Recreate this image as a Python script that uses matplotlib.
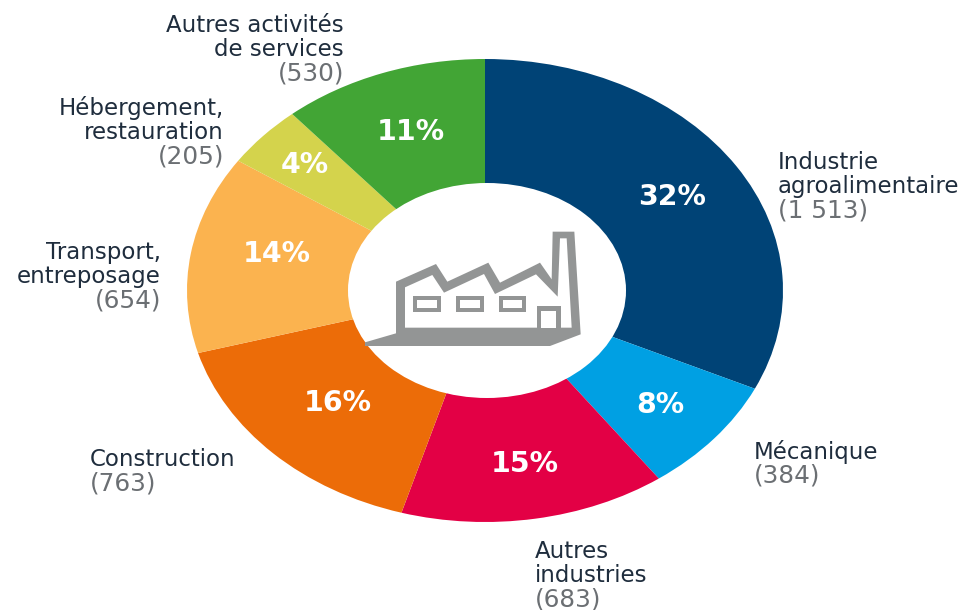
import matplotlib
matplotlib.use("Agg")
import matplotlib.pyplot as plt
from matplotlib.patches import Ellipse, Polygon, Rectangle

W, H = 966, 610
values = [1513, 384, 683, 763, 654, 205, 530]
percents = ["32%", "8%", "15%", "16%", "14%", "4%", "11%"]
colors = ["#004376", "#00A0E3", "#E30045", "#EC6C08", "#FBB34F", "#D4D34C", "#42A535"]
names = [["Industrie", "agroalimentaire"], ["Mécanique"], ["Autres", "industries"],
         ["Construction"], ["Transport,", "entreposage"], ["Hébergement,", "restauration"],
         ["Autres activités", "de services"]]
counts = ["(1 513)", "(384)", "(683)", "(763)", "(654)", "(205)", "(530)"]

# layout, in reference pixels
cx, cy, rx, ry = 485, 290.5, 298, 231.5
name_pos = [(778, 162.5, "left"), (754, 451.5, "left"), (535, 551.5, "left"), (90, 459.5, "left"),
            (161, 252.5, "right"), (224, 108.5, "right"), (344, 25.5, "right")]
pct_pos = [(672, 197), (660, 405), (525, 464), (338, 403), (277, 254), (305, 165), (411, 132)]
DARK, GREY, ICON = "#1f2d3d", "#6b6f73", "#939595"
LINE = 24

fig = plt.figure(figsize=(W / 100, H / 100), dpi=100, facecolor="white")
ax = fig.add_axes([(cx - rx) / W, 1 - (cy + ry) / H, 2 * rx / W, 2 * ry / H])
ax.pie(values, colors=colors, startangle=90, counterclock=False, radius=1)
ax.set_aspect("auto")
ax.set_xlim(-1, 1)
ax.set_ylim(-1, 1)

ov = fig.add_axes([0, 0, 1, 1], facecolor="none")
ov.set_xlim(0, W)
ov.set_ylim(H, 0)
ov.axis("off")
ov.add_patch(Ellipse((487, 290.5), 278, 215, fc="white", ec="none"))


def z(pts):
    return [(340 + x / 3, 180 + y / 3) for x, y in pts]


def box(x0, y0, x1, y1, color):
    (a, b), (c, d) = z([(x0, y0), (x1, y1)])
    ov.add_patch(Rectangle((a, b), c - a, d - b, fc=color, ec="none"))


ov.add_patch(Polygon(z([(75, 487), (168, 460), (168, 305), (288, 252), (322, 305), (445, 248),
                        (480, 308), (600, 248), (635, 298), (638, 155), (703, 155), (722, 463),
                        (630, 498), (75, 498)]), fc=ICON, ec="none"))
ov.add_patch(Polygon(z([(195, 443), (195, 322), (277, 285), (312, 338), (432, 282), (465, 342),
                        (588, 283), (653, 350), (660, 175), (680, 175), (695, 443)]),
                     fc="white", ec="none"))
box(590, 378, 662, 445, ICON)
box(603, 392, 648, 445, "white")
for x0, x1 in [(218, 302), (348, 432), (478, 558)]:
    box(x0, 348, x1, 395, ICON)
    box(x0 + 12, 360, x1 - 12, 385, "white")

FS, FS_COUNT = 16.5, 17.8
for lines, cnt, (x, y, ha) in zip(names, counts, name_pos):
    for i, line in enumerate(lines):
        ov.text(x, y + i * LINE, line, ha=ha, va="center", fontsize=FS, color=DARK,
                family="DejaVu Sans")
    ov.text(x, y + len(lines) * LINE, cnt, ha=ha, va="center", fontsize=FS_COUNT, color=GREY,
            family="DejaVu Sans")

for p, (x, y) in zip(percents, pct_pos):
    ov.text(x, y, p, ha="center", va="center", fontsize=20.4, fontweight="bold", color="white",
            family="DejaVu Sans")

fig.savefig("out.png", dpi=100)
